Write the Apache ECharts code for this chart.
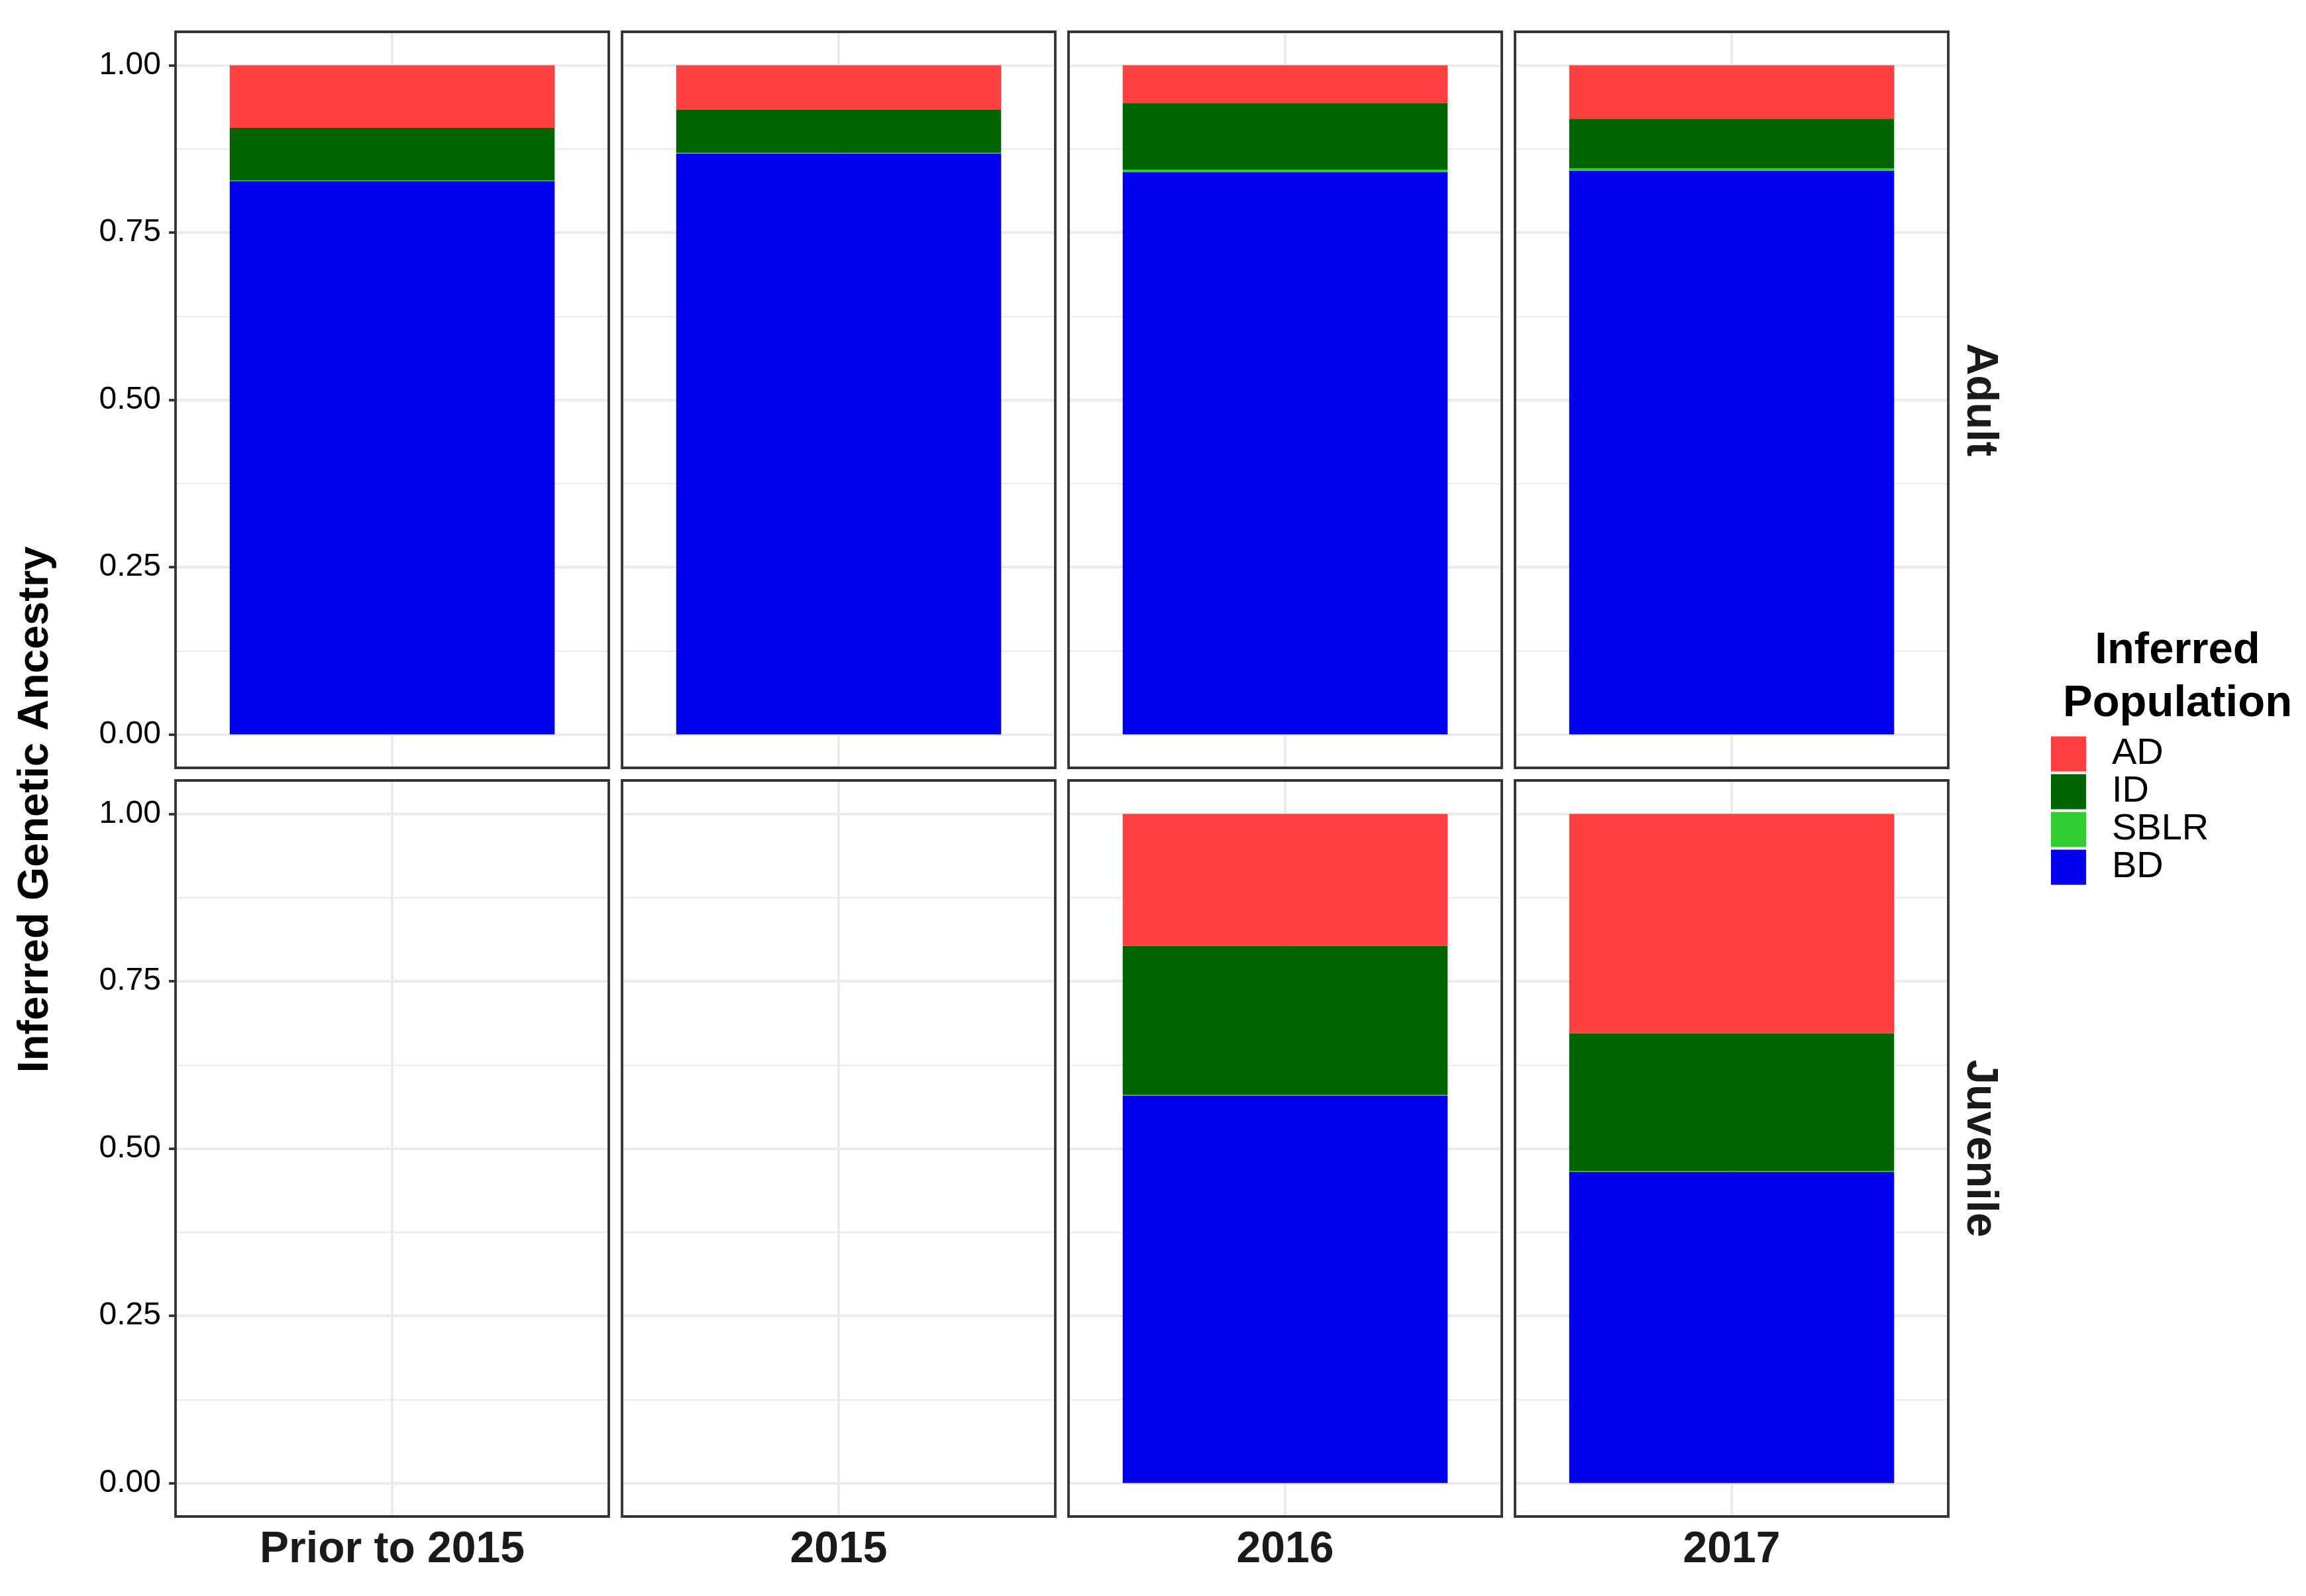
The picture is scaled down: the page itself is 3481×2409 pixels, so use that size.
<!DOCTYPE html>
<html>
<head>
<meta charset="utf-8">
<title>Inferred Genetic Ancestry</title>
<script src="https://cdn.jsdelivr.net/npm/echarts@6.0.0/dist/echarts.min.js"></script>
<style>
  html, body { margin: 0; padding: 0; background: #ffffff; }
  #chart { width: 3481px; height: 2409px; }
</style>
</head>
<body>
<div id="chart"></div>
<script>
// ---------------- data ----------------
const categories = ['Prior to 2015', '2015', '2016', '2017'];
const stages = ['Adult', 'Juvenile'];
const populations = ['AD', 'ID', 'SBLR', 'BD'];          // legend order (top to bottom)
const stackOrder = ['BD', 'SBLR', 'ID', 'AD'];           // stacking order (bottom to top)
const popColors = { AD: '#FF4040', ID: '#006400', SBLR: '#32CD32', BD: '#0000EE' };

const adultBD   = [0.827, 0.868, 0.840, 0.842];
const adultSBLR = [0.001, 0.001, 0.004, 0.004];
const adultID   = [0.0785, 0.065, 0.099, 0.074];
const adultAD   = [0.0935, 0.066, 0.057, 0.080];

const juvenileBD   = [null, null, 0.579, 0.465];
const juvenileSBLR = [null, null, 0.001, 0.001];
const juvenileID   = [null, null, 0.223, 0.206];
const juvenileAD   = [null, null, 0.197, 0.328];

const yMajorTicks = [0, 0.25, 0.5, 0.75, 1];
const yMinorTicks = [0.125, 0.375, 0.625, 0.875];

const stageData = {
  Adult:    { BD: adultBD, SBLR: adultSBLR, ID: adultID, AD: adultAD },
  Juvenile: { BD: juvenileBD, SBLR: juvenileSBLR, ID: juvenileID, AD: juvenileAD }
};

// ---------------- layout ----------------
const FONT = '"Liberation Sans", Arial, Helvetica, sans-serif';
const GRID_LEFT0 = 265, COL_STEP = 674, GRID_W = 654;
const ROW_TOPS = [48, 1178], GRID_H = 1111;
const BORDER = '#333333', BORDER_W = 3.8;
const GRIDLINE = '#EBEBEB';

const grids = [], xAxes = [], yAxes = [], series = [];
let k = 0;
stages.forEach((stage, r) => {
  categories.forEach((cat, c) => {
    grids.push({
      left: GRID_LEFT0 + c * COL_STEP, top: ROW_TOPS[r],
      width: GRID_W, height: GRID_H,
      show: true, borderColor: BORDER, borderWidth: BORDER_W,
      backgroundColor: 'transparent', z: 10, containLabel: false
    });
    // category axis for the bars
    xAxes.push({
      type: 'category', gridIndex: k, data: [cat], position: 'bottom',
      axisLine: { show: false }, axisTick: { show: false },
      splitLine: { show: false },
      axisLabel: {
        show: r === stages.length - 1, margin: 18,
        fontFamily: FONT, fontWeight: 'bold', fontSize: 66, color: '#1a1a1a'
      }
    });
    // value axis only for the vertical major grid line at the panel centre
    xAxes.push({
      type: 'value', gridIndex: k, min: 0, max: 2, interval: 1, position: 'top',
      axisLine: { show: false }, axisTick: { show: false }, axisLabel: { show: false },
      splitLine: { show: true, showMinLine: false, showMaxLine: false,
                   lineStyle: { color: GRIDLINE, width: 4 } }
    });
    // major y axis
    yAxes.push({
      type: 'value', gridIndex: k, min: -0.05, max: 1.05, position: 'left',
      axisLine: { show: false },
      axisTick: { show: c === 0, customValues: yMajorTicks, length: 10,
                  lineStyle: { color: BORDER, width: BORDER_W } },
      axisLabel: { show: c === 0, customValues: yMajorTicks, margin: 22,
                   formatter: v => Number(v).toFixed(2),
                   fontFamily: FONT, fontSize: 48, color: '#000000' },
      splitLine: { show: true, lineStyle: { color: GRIDLINE, width: 4 } }
    });
    // minor y axis (minor grid lines)
    yAxes.push({
      type: 'value', gridIndex: k, min: -0.05, max: 1.05, position: 'right',
      axisLine: { show: false },
      axisTick: { show: false, customValues: yMinorTicks },
      axisLabel: { show: false },
      splitLine: { show: true, lineStyle: { color: GRIDLINE, width: 2 } }
    });
    stackOrder.forEach(pop => {
      const v = stageData[stage][pop][c];
      series.push({
        type: 'bar', name: pop, stack: 'panel' + k,
        xAxisIndex: 2 * k, yAxisIndex: 2 * k,
        barWidth: '75%',
        itemStyle: { color: popColors[pop] },
        data: [v],
        z: 2
      });
    });
    k++;
  });
});

const graphics = [
  { type: 'text', x: 54, y: 1222, rotation: Math.PI / 2,
    style: { text: 'Inferred Genetic Ancestry', fill: '#000000',
             font: 'bold 65px ' + FONT, textAlign: 'center', textVerticalAlign: 'middle' } },
  { type: 'text', x: 3287, y: 1023,
    style: { text: 'Inferred\nPopulation', fill: '#000000', lineHeight: 80,
             font: 'bold 67px ' + FONT, textAlign: 'center', textVerticalAlign: 'middle' } }
];
stages.forEach((stage, r) => {
  graphics.push({
    type: 'text', x: 2988, y: ROW_TOPS[r] + GRID_H / 2, rotation: -Math.PI / 2,
    style: { text: stage, fill: '#1a1a1a', font: 'bold 67px ' + FONT,
             textAlign: 'center', textVerticalAlign: 'middle' }
  });
});

const chart = echarts.init(document.getElementById('chart'), null, { renderer: 'canvas' });
chart.setOption({
  animation: false,
  backgroundColor: '#ffffff',
  grid: grids,
  xAxis: xAxes,
  yAxis: yAxes,
  series: series,
  legend: {
    data: populations, orient: 'vertical', left: 3096, top: 1110, padding: 0,
    itemWidth: 53, itemHeight: 53, itemGap: 1, icon: 'rect', selectedMode: false,
    textStyle: { fontFamily: FONT, fontSize: 56, color: '#000000', padding: [0, 0, 0, 34] }
  },
  graphic: graphics
});
</script>
</body>
</html>
